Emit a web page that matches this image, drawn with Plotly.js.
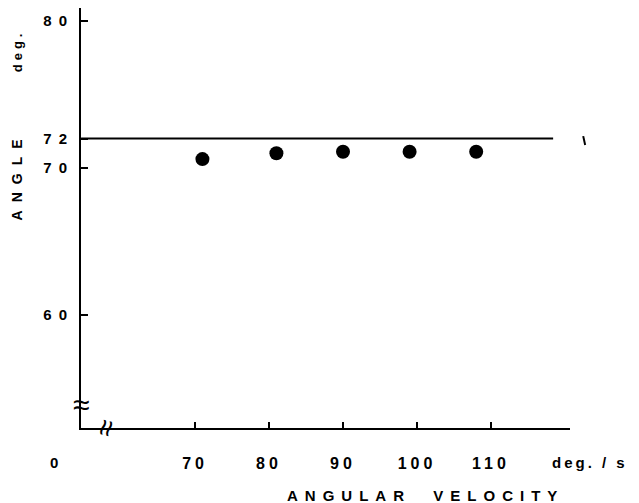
<!DOCTYPE html>
<html>
<head>
<meta charset="utf-8">
<script src="https://cdn.plot.ly/plotly-3.0.1.min.js"></script>
<style>html,body{margin:0;padding:0;background:#fff;}#chart{width:639px;height:503px;}</style>
</head>
<body>
<div id="chart"></div>
<script>
// Data
const velocity = [71, 81, 90, 99, 108];          // deg/s
const angle = [70.6, 71.0, 71.1, 71.1, 71.1];    // deg
const refAngle = 72;                              // reference line value
const refLineX = [54.6, 118.4];                   // extent of the reference line
const xTickVals = [70, 80, 90, 100, 110];
const xTickText = ['70', '80', '90', '100', '110'];
const yTickVals = [60, 70, 72, 80];
const yTickText = ['60', '70', '72', '80'];

const FONT = 'Liberation Sans, Arial, sans-serif';
const sp = (t, s) => '<span style="letter-spacing:' + s + 'px">' + t + '</span>';

const traces = [
  {
    x: refLineX,
    y: refLineX.map(() => refAngle),
    mode: 'lines',
    line: {color: '#000', width: 2},
    hoverinfo: 'skip',
    showlegend: false
  },
  {
    x: velocity,
    y: angle,
    mode: 'markers',
    marker: {color: '#000', size: 14},
    showlegend: false
  }
];

function ann(text, x, y, size, extra) {
  return Object.assign({
    text: text, xref: 'paper', yref: 'paper', x: x, y: y,
    xanchor: 'center', yanchor: 'middle', showarrow: false,
    font: {family: FONT, size: size, color: '#000', weight: 'bold'}
  }, extra || {});
}

const layout = {
  width: 639,
  height: 503,
  margin: {l: 81, r: 69, t: 8, b: 75},
  paper_bgcolor: '#fff',
  plot_bgcolor: '#fff',
  font: {family: FONT, color: '#000'},
  showlegend: false,
  xaxis: {
    range: [54.59, 120.68],
    showgrid: false,
    zeroline: false,
    showline: true,
    linecolor: '#000',
    linewidth: 2,
    ticks: 'inside',
    ticklen: 6,
    tickwidth: 2,
    tickcolor: '#000',
    tickvals: xTickVals,
    ticktext: xTickText.map(t => sp(t, 4)),
    ticklabelstandoff: 20,
    tickfont: {family: FONT, size: 16, color: '#000', weight: 'bold'}
  },
  yaxis: {
    range: [52.31, 80.88],
    showgrid: false,
    zeroline: false,
    showline: true,
    linecolor: '#000',
    linewidth: 2,
    ticks: 'inside',
    ticklen: 7,
    tickwidth: 2,
    tickcolor: '#000',
    tickvals: yTickVals,
    ticktext: yTickText.map(t => sp(t, 7)),
    ticklabelstandoff: 2,
    tickfont: {family: FONT, size: 15, color: '#000', weight: 'bold'}
  },
  annotations: [
    ann('0', -0.055, -0.081, 15),
    ann(sp('deg. / s', 3), 1.041, -0.081, 15),
    ann(sp('ANGULAR&nbsp; VELOCITY', 7), 0.705, -0.16, 15),
    ann(sp('ANGLE', 8), -0.13, 0.6, 14, {textangle: -90}),
    ann(sp('deg.', 4), -0.13, 0.898, 13, {textangle: -90}),
    ann('≈', 0.001, 0.055, 30, {font: {family: FONT, size: 30, color: '#000'}}),
    ann('≈', 0.049, 0.0, 30, {textangle: -75, font: {family: FONT, size: 30, color: '#000'}})
  ],
  shapes: [
    {type: 'line', xref: 'paper', yref: 'paper', x0: 1.027, y0: 0.695, x1: 1.031, y1: 0.674,
     line: {color: '#000', width: 2}}
  ]
};

Plotly.newPlot('chart', traces, layout, {displayModeBar: false, staticPlot: true});
</script>
</body>
</html>
